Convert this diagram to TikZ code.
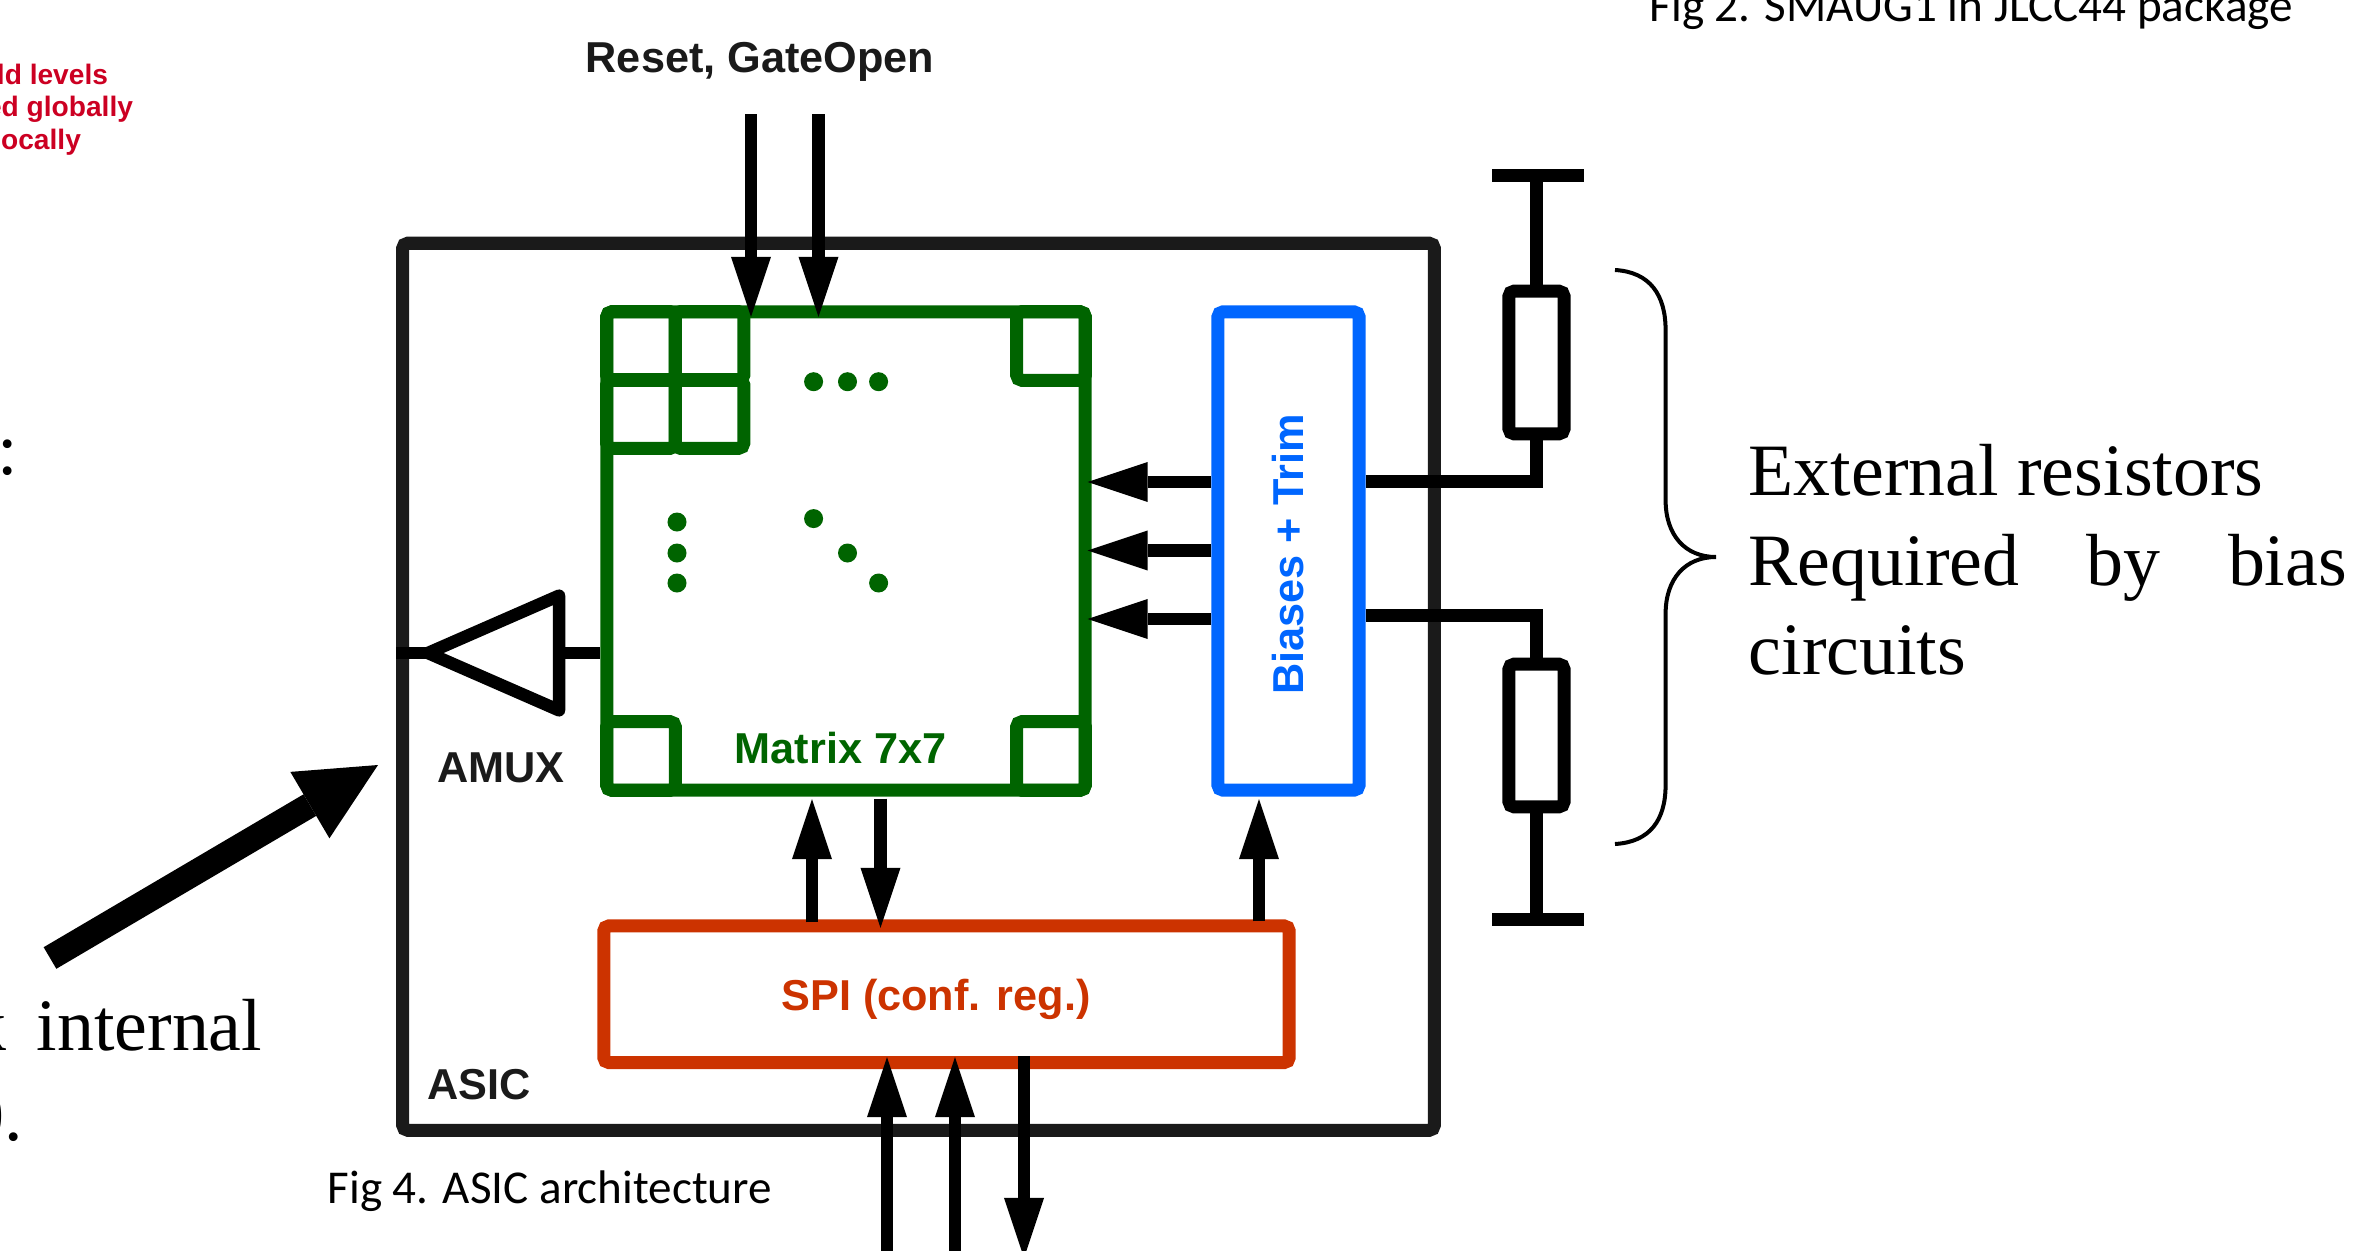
\documentclass[tikz,border=0pt]{standalone}
\usepackage{fontspec}
\setmainfont{Liberation Serif}
\setsansfont{Liberation Sans}
\newfontfamily\capfont{Carlito}
\usetikzlibrary{arrows.meta}

\definecolor{cblack}{HTML}{1A1A1A}
\definecolor{cgreen}{HTML}{006400}
\definecolor{cblue}{HTML}{0066FF}
\definecolor{cred}{HTML}{CC3300}
\definecolor{cnote}{HTML}{CC0022}

\tikzstyle{block}   = [draw, rectangle, rounded corners=0.5mm, line width=0.13cm, fill=none]
\tikzstyle{cell}    = [block, cgreen, minimum width=0.685cm, minimum height=0.685cm]
\tikzstyle{mdot}    = [circle, fill=cgreen, inner sep=0pt, minimum size=0.19cm]
\tikzstyle{res}     = [block, black, minimum width=0.55cm, minimum height=1.425cm]
\tikzstyle{wire}    = [line width=0.125cm, black]
\tikzstyle{sig}     = [wire, -{Triangle[length=0.6cm, width=0.4cm, line width=0pt]}]
\tikzstyle{boxtxt}  = [inner sep=0pt, font=\fontsize{12.3}{14}\selectfont\sffamily\bfseries]
\tikzstyle{bigtxt}  = [inner sep=0pt, anchor=base west, font=\fontsize{21}{25}\selectfont]
\tikzstyle{figcap}  = [inner sep=0pt, anchor=base west, font=\fontsize{13.4}{15}\selectfont\capfont]
\tikzstyle{notetxt} = [inner sep=0pt, anchor=base east, text=cnote, font=\fontsize{8}{10}\selectfont\sffamily\bfseries]

\begin{document}
\begin{tikzpicture}[x=0.01cm, y=-0.01cm]
  \useasboundingbox (0, 0) rectangle (2353, 1251);

  \node[block, cblack, minimum width=10.31cm, minimum height=8.865cm] (asic) at (918.5, 686.75) {};
  \node[block, cgreen, minimum width=4.78cm, minimum height=4.78cm] (matrix) at (846, 551) {};
  \node[block, cblue, minimum width=1.41cm, minimum height=4.78cm] (biases) at (1288.5, 551) {};
  \node[block, cred, minimum width=6.85cm, minimum height=1.365cm] (spi) at (946.5, 994.25) {};

  \foreach \cname/\x/\y in {a/641/346, b/709.5/346, c/641/414, d/709.5/414, e/1051/346, f/641/756, g/1051/756}
    \node[cell] (cell\cname) at (\x, \y) {};
  \foreach \x/\y [count=\i] in {813.6/381.7, 847.5/381.7, 878.6/381.7, 677/522, 677/553, 677/583, 813.6/518.6, 847.5/553, 878.6/583}
    \node[mdot] (dot\i) at (\x, \y) {};

  \node[boxtxt, text=cgreen] (mlabel) at (840.7, 748) {Matrix 7x7};
  \node[boxtxt, text=cblue, rotate=90] (blabel) at (1288, 554.5) {Biases + Trim};
  \node[boxtxt, text=cred] (slabel) at (936, 999.5) {SPI (conf. reg.)};
  \node[boxtxt, text=cblack] (rlabel) at (760, 62) {Reset, GateOpen};
  \node[boxtxt, text=cblack] (alabel) at (501, 768) {AMUX};
  \node[boxtxt, text=cblack] (ilabel) at (479, 1085) {ASIC};

  \coordinate (rsta) at (751, 114);
  \coordinate (rstb) at (818.5, 114);
  \draw[sig, shorten >=-0.115cm] (rsta) -- (rsta |- matrix.north);
  \draw[sig, shorten >=-0.115cm] (rstb) -- (rstb |- matrix.north);

  \coordinate (ampa) at (1150, 482);
  \coordinate (ampb) at (1150, 550.5);
  \coordinate (ampc) at (1150, 619);
  \foreach \pt in {ampa, ampb, ampc}
    \draw[sig, shorten >=-0.04cm] (biases.west |- \pt) -- (matrix.east |- \pt);

  \coordinate (ampout) at (428, 653);
  \coordinate (ampin) at (559, 653);
  \draw[wire, line join=round] (ampout) -- (559, 595.7) -- (559, 710.3) -- cycle;
  \draw[wire] (asic.west |- ampout) -- (ampout);
  \draw[wire] (ampin) -- (matrix.west |- ampin);

  \coordinate (upm) at (812, 900);
  \coordinate (dnm) at (880.5, 900);
  \coordinate (upb) at (1259, 900);
  \draw[sig, shorten >=0.025cm, shorten <=-0.03cm] (spi.north -| upm) -- (matrix.south -| upm);
  \draw[sig, shorten >=-0.085cm, shorten <=0.02cm] (matrix.south -| dnm) -- (spi.north -| dnm);
  \draw[sig, shorten >=0.025cm, shorten <=-0.02cm] (spi.north -| upb) -- (biases.south -| upb);

  \coordinate (spia) at (887, 1251);
  \coordinate (spib) at (955, 1251);
  \coordinate (spic) at (1024, 1258);
  \draw[sig, shorten >=-0.12cm] (spia) -- (spia |- spi.south);
  \draw[sig, shorten >=-0.12cm] (spib) -- (spib |- spi.south);
  \draw[sig, shorten <=-0.13cm] (spic |- spi.south) -- (spic);

  \node[res] (ra) at (1536.5, 362.5) {};
  \node[res] (rb) at (1536.5, 735.5) {};
  \coordinate (bara) at (1536.5, 175.5);
  \coordinate (barb) at (1536.5, 919.5);
  \coordinate (wa) at (1536.5, 481.5);
  \coordinate (wb) at (1536.5, 615.5);
  \draw[wire, line width=0.13cm] (1492, 175.5) -- (1584, 175.5);
  \draw[wire, line width=0.13cm] (1492, 919.5) -- (1584, 919.5);
  \draw[wire] (bara) -- (ra.north);
  \draw[wire] (rb.south) -- (barb);
  \draw[wire] (biases.east |- wa) -- (wa) -- (ra.south);
  \draw[wire] (biases.east |- wb) -- (wb) -- (rb.north);

  \draw[line width=0.04cm, black] (1615, 270) .. controls (1650, 272) and (1665.6, 295) .. (1665.6, 330)
    -- (1665.6, 500) .. controls (1665.6, 535) and (1685, 557) .. (1716, 557)
    .. controls (1685, 557) and (1665.6, 579) .. (1665.6, 614)
    -- (1665.6, 785) .. controls (1665.6, 820) and (1650, 842) .. (1615, 844);

  \node[bigtxt] (exta) at (1748, 495.5) {External resistors};
  \node[bigtxt] (extb) at (1748, 585) {\makebox[5.98cm][s]{Required by bias}};
  \node[bigtxt] (extc) at (1748, 674.5) {circuits};

  \coordinate (ptail) at (50, 958);
  \coordinate (ptip) at (378, 765);
  \draw[line width=0.25cm, -{Triangle[length=0.79cm, width=0.77cm, line width=0pt]}] (ptail) -- (ptip);

  \node[bigtxt] (colon) at (-3, 474) {:};
  \node[bigtxt, anchor=base east] (inta) at (263, 1050) {k\hspace{0.3cm}internal};
  \node[bigtxt, anchor=base east] (intb) at (24, 1140) {0.};

  \node[notetxt] (notea) at (108.7, 84) {ld levels};
  \node[notetxt] (noteb) at (133.7, 116.5) {ed globally};
  \node[notetxt] (notec) at (81.6, 149) {ocally};

  \node[figcap] (figa) at (327, 1203) {Fig 4. ASIC architecture};
  \node[figcap] (figb) at (1649, 21) {Fig 2. SMAUG1 in JLCC44 package};
\end{tikzpicture}
\end{document}
